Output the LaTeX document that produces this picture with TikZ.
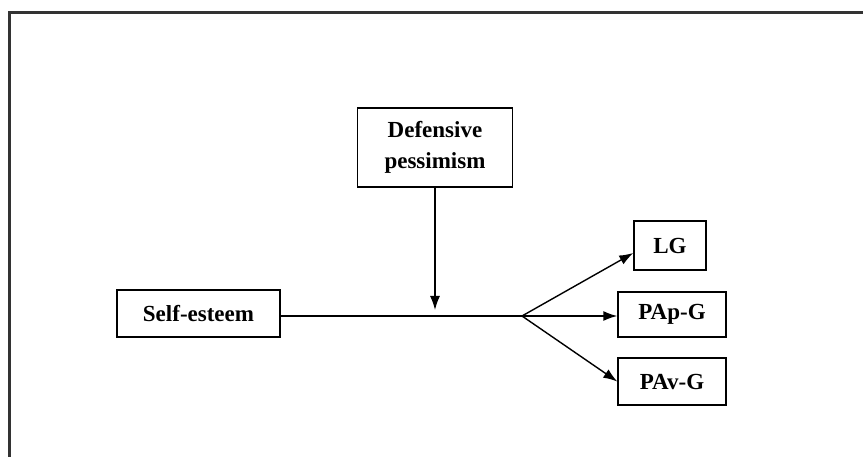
\documentclass[tikz,border=0pt]{standalone}
\usepackage{fontspec}
\setmainfont{Liberation Serif}
\usetikzlibrary{arrows.meta}
\begin{document}
\begin{tikzpicture}[x=1pt,y=-1pt,
  box/.style={draw, line width=1.4pt, inner sep=0pt, align=center,
    font=\bfseries\fontsize{23}{31}\selectfont},
  arr/.style={-{Latex[length=14pt,width=10pt]}, line width=1.4pt},
  frame/.style={line width=2.5pt, draw=black!80}]
\useasboundingbox (0,0) rectangle (863,457);
\draw[frame] (9.5,457) -- (9.5,12.5) -- (863,12.5);
\node[box, minimum width=155pt, minimum height=79pt] (dp) at (435,147.5) {Defensive\\pessimism};
\node[box, minimum width=163pt, minimum height=47pt] (se) at (198.5,313.5) {Self-esteem};
\node[box, minimum width=72pt, minimum height=49pt] (lg) at (670,245.5) {LG};
\node[box, minimum width=108pt, minimum height=45pt] (pap) at (672,314.5) {PAp-G};
\node[box, minimum width=108pt, minimum height=47pt] (pav) at (672,381.5) {PAv-G};
\coordinate (br) at (522,316);
\coordinate (dpt) at (435,310);
\draw[line width=1.4pt] (se.east |- br) -- (br);
\draw[arr] (dp.south) -- (dpt);
\draw[arr] (br) -- ([yshift=-7.5pt]lg.west);
\draw[arr] (br) -- (pap.west |- br);
\draw[arr] (br) -- (pav.west);
\end{tikzpicture}
\end{document}
